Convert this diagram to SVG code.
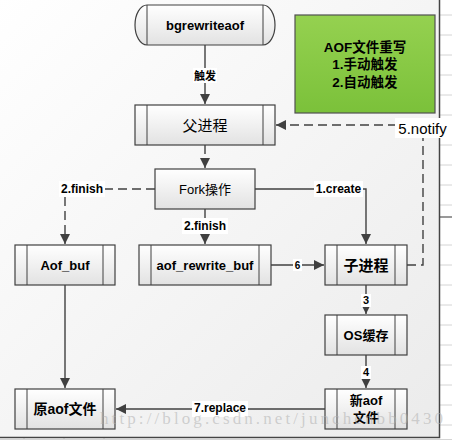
<svg xmlns="http://www.w3.org/2000/svg" width="452" height="440" viewBox="0 0 452 440">
<defs>
<linearGradient id="panel" x1="0" y1="0" x2="1" y2="1">
<stop offset="0" stop-color="#ffffff"/>
<stop offset="1" stop-color="#ebebeb"/>
</linearGradient>
<linearGradient id="node" x1="0" y1="0" x2="0" y2="1">
<stop offset="0" stop-color="#ffffff"/>
<stop offset="1" stop-color="#e2e2e2"/>
</linearGradient>
<linearGradient id="green" x1="0" y1="0" x2="0" y2="1">
<stop offset="0" stop-color="#95d150"/>
<stop offset="1" stop-color="#7bc13a"/>
</linearGradient>
<marker id="arr" markerUnits="userSpaceOnUse" markerWidth="10" markerHeight="10" viewBox="0 0 10 10" refX="10" refY="5" orient="auto">
<path d="M0,0 L10,5 L0,10 z" fill="#404040"/>
</marker>
</defs>
<style>
.n{fill:url(#node);stroke:#404040;stroke-width:1.2}
.in{stroke:#404040;stroke-width:1;fill:none}
.c{fill:none;stroke:#404040;stroke-width:1.4}
.d{stroke-dasharray:9,5}
.lb{fill:#ffffff}
.t{font-family:"Liberation Sans","Noto Sans CJK SC",sans-serif;font-weight:bold;font-size:13px;fill:#000;text-anchor:middle;dominant-baseline:central}
.l{font-family:"Liberation Sans","Noto Sans CJK SC",sans-serif;font-weight:bold;font-size:12px;fill:#000;text-anchor:middle;dominant-baseline:central}
.reg{font-weight:normal}
.g{stroke:#d4d4d4;stroke-width:1}
</style>
<rect x="0" y="0" width="452" height="440" fill="#ffffff"/>
<g id="grid">
<path class="g" d="M440,15H452M440,35H452M440,55H452M440,75H452M440,95H452M440,115H452M440,145H452M440,165H452M440,185H452M440,205H452M440,245H452M440,265H452M440,285H452M440,305H452M440,325H452M440,345H452M440,365H452M440,385H452M440,405H452M440,425H452M0,439.5H452M24,438V440M64,438V440M104,438V440"/>
<path d="M440,217H452" stroke="#555" stroke-width="1.2"/>
</g>
<rect id="panel" x="-2" y="-2" width="441.5" height="439.5" fill="url(#panel)" stroke="#444" stroke-width="1.5"/>

<g id="connectors">
<path class="c" d="M205,45V104" marker-end="url(#arr)"/>
<path class="c d" d="M205,145V168" marker-end="url(#arr)"/>
<path class="c d" d="M155,189H65V244" marker-end="url(#arr)"/>
<path class="c" d="M255,189H366V244" marker-end="url(#arr)"/>
<path class="c" d="M205,209V244" marker-end="url(#arr)"/>
<path class="c" d="M271,265H324" marker-end="url(#arr)"/>
<path class="c" d="M366,285V314" marker-end="url(#arr)"/>
<path class="c" d="M366,355V388" marker-end="url(#arr)"/>
<path class="c" d="M65,285V388" marker-end="url(#arr)"/>
<path class="c" d="M325,409H116" marker-end="url(#arr)"/>
<path class="c d" d="M407,265H423V125H276" marker-end="url(#arr)"/>
<rect class="lb" x="193" y="68" width="24" height="15"/>
<text class="l" x="205" y="75.5" style="font-size:11px">触发</text>
<rect class="lb" x="59" y="181" width="46" height="16"/>
<text class="l" x="82" y="189">2.finish</text>
<rect class="lb" x="314" y="181" width="49" height="16"/>
<text class="l" x="338.5" y="189">1.create</text>
<rect class="lb" x="182" y="218" width="46" height="16"/>
<text class="l" x="205" y="226">2.finish</text>
<rect class="lb" x="293" y="259" width="9" height="12"/>
<text class="l" x="297.5" y="265" style="font-size:10px">6</text>
<rect class="lb" x="361" y="294" width="10" height="13"/>
<text class="l" x="366" y="300" style="font-size:11px">3</text>
<rect class="lb" x="361" y="366" width="10" height="13"/>
<text class="l" x="366" y="372" style="font-size:11px">4</text>
<rect class="lb" x="192" y="401" width="56" height="16"/>
<text class="l" x="220" y="408">7.replace</text>
<rect class="lb" x="395" y="118" width="56" height="20"/>
<text class="l reg" x="422.5" y="128" style="font-size:15px">5.notify</text>
</g>

<g id="bgrewriteaof">
<path class="n" d="M147,5H263A12,20 0 0 1 263,45H147A12,20 0 0 1 147,5Z"/>
<path class="in" d="M147,5V45M263,5V45"/>
<text class="t" x="205" y="25">bgrewriteaof</text>
</g>
<g id="parent">
<rect class="n" x="135" y="105" width="140" height="40"/>
<path class="in" d="M147,105V145M263,105V145"/>
<text class="t reg" x="205" y="125" style="font-size:15px">父进程</text>
</g>
<g id="fork">
<rect class="n" x="155" y="169" width="100" height="40"/>
<text class="t reg" x="205" y="189">Fork操作</text>
</g>
<g id="aofbuf">
<rect class="n" x="15" y="245" width="100" height="40"/>
<path class="in" d="M27,245V285M103,245V285"/>
<text class="t" x="65" y="265">Aof_buf</text>
</g>
<g id="aofrewritebuf">
<rect class="n" x="139" y="245" width="132" height="40"/>
<path class="in" d="M151,245V285M259,245V285"/>
<text class="t" x="205" y="265">aof_rewrite_buf</text>
</g>
<g id="child">
<rect class="n" x="325" y="245" width="82" height="40"/>
<path class="in" d="M337,245V285M395,245V285"/>
<text class="t" x="366" y="265" style="font-size:15px">子进程</text>
</g>
<g id="oscache">
<rect class="n" x="325" y="315" width="82" height="40"/>
<path class="in" d="M337,315V355M395,315V355"/>
<text class="t" x="366" y="335">OS缓存</text>
</g>
<g id="newaof">
<rect class="n" x="325" y="389" width="82" height="40"/>
<path class="in" d="M337,389V429M395,389V429"/>
<text class="t" x="366" y="400">新aof</text>
<text class="t" x="366" y="417">文件</text>
</g>
<g id="oldaof">
<rect class="n" x="15" y="389" width="100" height="40"/>
<path class="in" d="M27,389V429M103,389V429"/>
<text class="t" x="65" y="409" style="font-size:14px">原aof文件</text>
</g>
<g id="note">
<rect x="295" y="15" width="140" height="98" fill="url(#green)" stroke="#505050" stroke-width="1.2"/>
<text class="t" x="365" y="47" style="font-size:13.5px">AOF文件重写</text>
<text class="t" x="365" y="64.5" style="font-size:13.5px">1.手动触发</text>
<text class="t" x="365" y="82" style="font-size:13.5px">2.自动触发</text>
</g>
<text x="100" y="424" font-family="Liberation Serif, serif" font-size="17" textLength="343" lengthAdjust="spacing" fill="#b0b0b0" fill-opacity="0.55">http://blog.csdn.net/junchenbb0430</text>
</svg>
